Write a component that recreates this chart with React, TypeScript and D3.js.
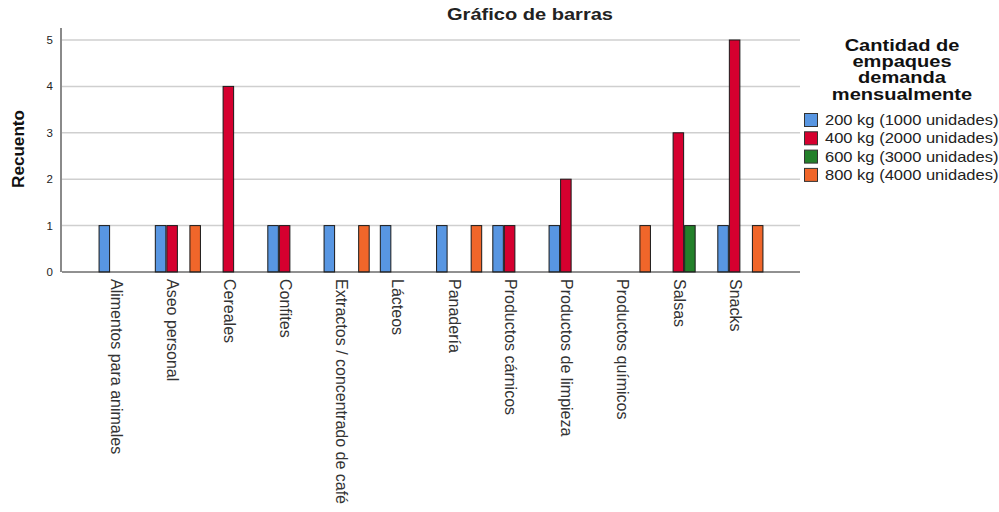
import { useRef, useEffect } from 'react';
import * as d3 from 'd3';

const CATEGORIES = [
  'Alimentos para animales',
  'Aseo personal',
  'Cereales',
  'Confites',
  'Extractos / concentrado de café',
  'Lácteos',
  'Panadería',
  'Productos cárnicos',
  'Productos de limpieza',
  'Productos químicos',
  'Salsas',
  'Snacks',
];

const SERIES = [
  '200 kg (1000 unidades)',
  '400 kg (2000 unidades)',
  '600 kg (3000 unidades)',
  '800 kg (4000 unidades)',
];

const VALUES_200 = [1, 1, 0, 1, 1, 1, 1, 1, 1, 0, 0, 1];
const VALUES_400 = [0, 1, 4, 1, 0, 0, 0, 1, 2, 0, 3, 5];
const VALUES_600 = [0, 0, 0, 0, 0, 0, 0, 0, 0, 0, 1, 0];
const VALUES_800 = [0, 1, 0, 0, 1, 0, 1, 0, 0, 1, 0, 1];

const Y_TICKS = [0, 1, 2, 3, 4, 5];
const LEGEND_TITLE = ['Cantidad de', 'empaques', 'demanda', 'mensualmente'];

const COLORS = ['#5896E2', '#D5002F', '#23802A', '#F0662A'];

export default function App() {
  const svgRef = useRef<SVGSVGElement>(null);

  useEffect(() => {
    if (!svgRef.current) return;
    const width = 999;
    const h = 512;
    const margin = { top: 40, right: 199, bottom: 240, left: 62 };
    const font = 'Arial, "Liberation Sans", sans-serif';
    // the reference's text is drawn a little wider than Arial
    const stretch = 1.18;

    const svg = d3.select(svgRef.current);
    svg.selectAll('*').remove();
    svg.attr('width', width).attr('height', h);

    const series = [VALUES_200, VALUES_400, VALUES_600, VALUES_800];

    const x = d3.scaleBand<string>()
      .domain(CATEGORIES)
      .range([margin.left, width - margin.right])
      .paddingInner(0.18)
      .paddingOuter(0.65);

    const xs = d3.scaleBand<number>()
      .domain(d3.range(SERIES.length))
      .range([0, x.bandwidth()]);

    const y = d3.scaleLinear()
      .domain([0, 5])
      .range([h - margin.bottom, margin.top]);

    // Grid
    svg.append('g')
      .selectAll('line')
      .data(Y_TICKS.filter(d => d > 0))
      .join('line')
      .attr('x1', margin.left).attr('x2', width - margin.right)
      .attr('y1', d => y(d)).attr('y2', d => y(d))
      .attr('stroke', '#cfcfcf').attr('stroke-width', 1.5);

    // Y axis
    svg.append('line')
      .attr('x1', margin.left - 1).attr('x2', margin.left - 1)
      .attr('y1', 28).attr('y2', y(0))
      .attr('stroke', '#8a8a8a').attr('stroke-width', 2);

    svg.append('g')
      .selectAll('text')
      .data(Y_TICKS)
      .join('text')
      .attr('x', 53)
      .attr('y', d => y(d))
      .attr('dy', '0.35em')
      .attr('text-anchor', 'end')
      .attr('font-family', font).attr('font-size', '11.5px').attr('fill', '#222')
      .text(d => d);

    // Bars
    CATEGORIES.forEach((cat, i) => {
      series.forEach((vals, s) => {
        const v = vals[i];
        if (!v) return;
        svg.append('rect')
          .attr('x', (x(cat) ?? 0) + xs(s)! + 0.5)
          .attr('y', y(v))
          .attr('width', xs.bandwidth() - 1)
          .attr('height', y(0) - y(v))
          .attr('fill', COLORS[s])
          .attr('stroke', '#1a1a1a')
          .attr('stroke-width', 1);
      });
    });

    // X axis
    svg.append('line')
      .attr('x1', margin.left).attr('x2', width - margin.right)
      .attr('y1', y(0)).attr('y2', y(0))
      .attr('stroke', '#222').attr('stroke-width', 1);

    svg.append('g')
      .selectAll('text')
      .data(CATEGORIES)
      .join('text')
      .attr('transform', d => `translate(${(x(d) ?? 0) + x.bandwidth() / 2 - 5},${y(0) + 7}) rotate(90)`)
      .attr('dy', '0.35em')
      .attr('text-anchor', 'start')
      .attr('font-family', font).attr('font-size', '16px').attr('fill', '#333')
      .text(d => d);

    // Title
    svg.append('text')
      .attr('transform', `translate(530,20) scale(${stretch},1)`)
      .attr('text-anchor', 'middle')
      .attr('font-family', font).attr('font-size', '17px').attr('font-weight', 'bold').attr('fill', '#222')
      .text('Gráfico de barras');

    // Y label
    svg.append('text')
      .attr('transform', `translate(24,149) rotate(-90) scale(1.07,1)`)
      .attr('text-anchor', 'middle')
      .attr('font-family', font).attr('font-size', '16px').attr('font-weight', 'bold').attr('fill', '#111')
      .text('Recuento');

    // Legend title, one text with a line per tspan
    svg.append('text')
      .attr('transform', `translate(902,51) scale(${stretch},1)`)
      .attr('text-anchor', 'middle')
      .attr('font-family', font).attr('font-size', '17px').attr('font-weight', 'bold').attr('fill', '#111')
      .selectAll('tspan')
      .data(LEGEND_TITLE)
      .join('tspan')
      .attr('x', 0)
      .attr('y', (_, i) => i * 16.2)
      .text(d => d);

    const lg = svg.append('g');
    SERIES.forEach((name, i) => {
      const cy = 120 + i * 18.3;
      lg.append('rect')
        .attr('x', 804.5).attr('y', cy - 6.5)
        .attr('width', 13).attr('height', 13)
        .attr('fill', COLORS[i]).attr('stroke', '#333').attr('stroke-width', 1);
      lg.append('text')
        .attr('transform', `translate(825,${cy}) scale(${stretch},1)`)
        .attr('dy', '0.35em')
        .attr('font-family', font).attr('font-size', '14px').attr('fill', '#222')
        .text(name);
    });
  }, []);

  return <svg ref={svgRef} style={{ position: 'absolute', left: 0, top: 0, background: '#fff' }} />;
}
